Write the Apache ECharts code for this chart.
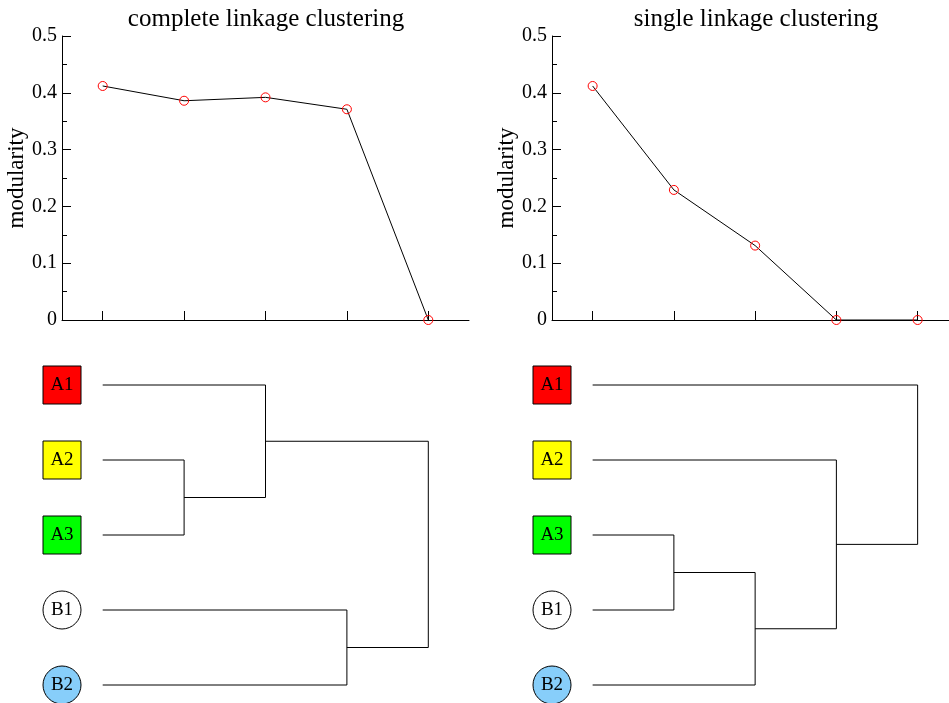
<!DOCTYPE html>
<html>
<head>
<meta charset="utf-8">
<script src="https://cdn.jsdelivr.net/npm/echarts@6/dist/echarts.min.js"></script>
<style>
html,body{margin:0;padding:0;background:#fff;}
#chart{width:949px;height:703px;}
</style>
</head>
<body>
<div id="chart"></div>
<script>
// ---- data ----
const steps = [1, 2, 3, 4, 5];
const completeModularity = [0.412, 0.386, 0.392, 0.371, 0];
const singleModularity = [0.412, 0.229, 0.131, 0, 0];
const titles = ['complete linkage clustering', 'single linkage clustering'];
const yAxisName = 'modularity';
const leafNames = ['A1', 'A2', 'A3', 'B1', 'B2'];
const leafColors = ['#ff0000', '#ffff00', '#00ff00', '#ffffff', '#87cefa'];
const leafShapes = ['rect', 'rect', 'rect', 'circle', 'circle'];
// merges: [child a, child b, merge height]; leaves are 0..4, new clusters 5,6,7,8
const completeMerges = [[1, 2, 2], [0, 5, 3], [3, 4, 4], [6, 7, 5]];
const singleMerges = [[2, 3, 2], [5, 4, 3], [1, 6, 4], [0, 7, 5]];
const leafHeight = 1;

// ---- build ----
const FONT = 'Liberation Serif';
const chart = echarts.init(document.getElementById('chart'));

const xMin = 0.5;
const xMaxLeft = 5.5;
const xMaxRight = 5.386; // right panel is cut by the picture edge

function dendroSeries(merges, gi) {
  const nodes = leafNames.map((n, i) => ({ x: leafHeight, y: i }));
  const out = [];
  merges.forEach(m => {
    const a = nodes[m[0]], b = nodes[m[1]], h = m[2];
    out.push({
      type: 'line', xAxisIndex: gi, yAxisIndex: gi, symbol: 'none', clip: false,
      lineStyle: { color: '#000', width: 1 }, silent: true, animation: false,
      data: [[a.x, a.y], [h, a.y], [h, b.y], [b.x, b.y]]
    });
    nodes.push({ x: h, y: (a.y + b.y) / 2 });
  });
  out.push({
    type: 'scatter', xAxisIndex: gi, yAxisIndex: gi, clip: false, animation: false,
    data: leafNames.map((n, i) => ({
      value: [xMin, i], name: n, symbol: leafShapes[i],
      itemStyle: { color: leafColors[i], borderColor: '#000', borderWidth: 1, opacity: 1 }
    })),
    symbolSize: 38,
    itemStyle: { opacity: 1 },
    label: { show: true, position: 'inside', formatter: '{b}', color: '#000', fontFamily: FONT, fontSize: 19 }
  });
  return out;
}

function lineSeries(values, gi) {
  return {
    type: 'line', xAxisIndex: gi, yAxisIndex: gi, clip: false, animation: false,
    data: values.map((v, i) => [steps[i], v]),
    symbol: 'circle', symbolSize: 9,
    itemStyle: { color: 'rgba(0,0,0,0)', borderColor: '#ff0000', borderWidth: 1 },
    lineStyle: { color: '#000', width: 1 }
  };
}

const topY = {
  type: 'value', min: 0, max: 0.5, interval: 0.1,
  name: yAxisName, nameLocation: 'middle', nameRotate: 90, nameGap: 32,
  nameTextStyle: { fontFamily: FONT, fontSize: 23, color: '#000' },
  axisLine: { show: true, lineStyle: { color: '#000', width: 1 } },
  axisTick: { show: true, inside: true, length: 9, lineStyle: { color: '#000' } },
  minorTick: { show: true, splitNumber: 2, length: 5, lineStyle: { color: '#000' } },
  axisLabel: { fontFamily: FONT, fontSize: 20, color: '#000', margin: 5 },
  splitLine: { show: false }
};
function topX(max) {
  return {
    type: 'value', min: xMin, max: max,
    axisLine: { show: true, onZero: false, lineStyle: { color: '#000', width: 1 } },
    axisTick: { show: true, inside: true, length: 9, customValues: steps, lineStyle: { color: '#000' } },
    axisLabel: { show: false, customValues: steps }, splitLine: { show: false }
  };
}
function dX(max) { return { type: 'value', min: xMin, max: max, show: false, splitLine: { show: false } }; }
const dY = { type: 'value', min: -0.5, max: 4.24, inverse: true, show: false, splitLine: { show: false } };

const option = {
  backgroundColor: '#fff',
  animation: false,
  title: [
    { text: titles[0], left: 266, textAlign: 'center', top: 7, padding: 0,
      textStyle: { fontFamily: FONT, fontSize: 25, fontWeight: 'normal', color: '#000' } },
    { text: titles[1], left: 756, textAlign: 'center', top: 7, padding: 0,
      textStyle: { fontFamily: FONT, fontSize: 25, fontWeight: 'normal', color: '#000' } }
  ],
  grid: [
    { left: 62, top: 36, width: 407, height: 284 },
    { left: 552, top: 36, width: 397, height: 284 },
    { left: 62, top: 347.5, width: 407, height: 355.5 },
    { left: 552, top: 347.5, width: 397, height: 355.5 }
  ],
  xAxis: [
    Object.assign({ gridIndex: 0 }, topX(xMaxLeft)),
    Object.assign({ gridIndex: 1 }, topX(xMaxRight)),
    Object.assign({ gridIndex: 2 }, dX(xMaxLeft)),
    Object.assign({ gridIndex: 3 }, dX(xMaxRight))
  ],
  yAxis: [
    Object.assign({ gridIndex: 0 }, topY),
    Object.assign({ gridIndex: 1 }, topY),
    Object.assign({ gridIndex: 2 }, dY),
    Object.assign({ gridIndex: 3 }, dY)
  ],
  series: [
    lineSeries(completeModularity, 0),
    lineSeries(singleModularity, 1)
  ].concat(dendroSeries(completeMerges, 2), dendroSeries(singleMerges, 3))
};
chart.setOption(option);
</script>
</body>
</html>
